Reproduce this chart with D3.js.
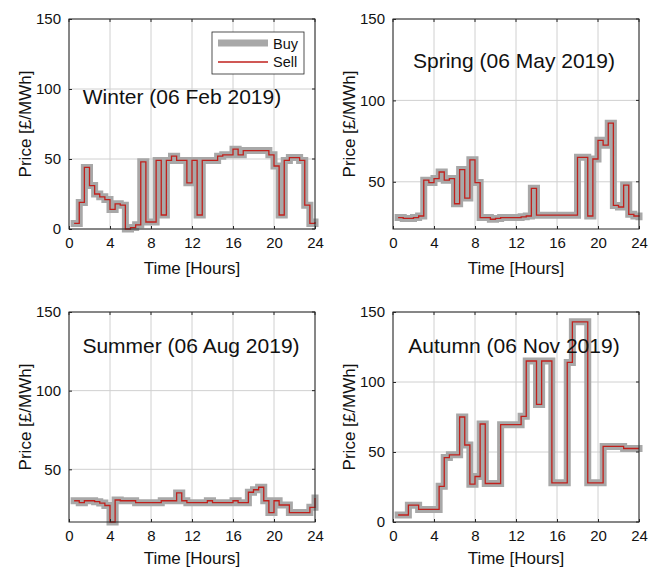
<!DOCTYPE html>
<html>
<head>
<meta charset="utf-8">
<script src="https://cdn.jsdelivr.net/npm/d3@7"></script>
<style>
  html, body { margin: 0; padding: 0; background: #fff; }
  svg { display: block; font-family: "Liberation Sans", Arial, sans-serif; }
</style>
</head>
<body>
<svg id="chart" width="656" height="568"></svg>
<script>
// ---- data: half-hourly prices (stairs, x = 0.5 ... 24 h) ----
const hours = d3.range(48).map(i => 0.5 * (i + 1));

const winterBuy = [4, 19, 44, 31, 25, 23, 21, 14, 18, 17, 0, 1, 3, 48, 5, 5,
  49, 10, 49, 52, 49, 49, 33, 49, 10, 49, 49, 49, 52, 53, 53, 57,
  53, 56, 56, 56, 56, 56, 53, 45, 10, 49, 51, 51, 49, 17, 4, 5];
const springBuy = [28, 27.5, 27.5, 28, 29, 51, 49.5, 52, 56, 51, 52, 36.5, 57.5, 40, 63.5, 49.5,
  28, 28, 27, 27.5, 28, 28, 28, 28, 28.5, 29, 46, 29.5, 29.5, 29.5, 29.5, 29.5,
  29.5, 29.5, 29.5, 65, 65, 29, 64, 75.5, 72.5, 86, 35.5, 34.5, 48, 30, 29, 28.5];
const summerBuy = [30, 28.8, 30, 30, 29.4, 28.5, 27, 16.5, 30.5, 30, 30, 30, 28.8, 28.8, 28.8, 28.8,
  28.8, 30, 30, 30, 35, 30, 28.8, 28.8, 28.8, 28.8, 30, 28.8, 28.8, 28.8, 28.8, 30,
  28.8, 28.8, 35.4, 37, 38.6, 30, 22.5, 30, 27.3, 27.3, 22.5, 22.5, 22.5, 22.5, 25.8, 31.8];
const autumnBuy = [5, 5, 12, 12, 9, 9, 9, 9, 25.5, 46, 48, 48, 75, 55, 27, 32.5,
  70, 27.5, 27.5, 27.5, 69.5, 69.5, 69.5, 69.5, 75.5, 115, 115, 84, 115, 115, 28, 28,
  28, 114, 143, 143, 143, 28, 28, 28, 54, 54, 54, 54, 52.5, 52.5, 52.5, 52.5];

// sell prices follow the buy prices
const winterSell = winterBuy.slice();
const springSell = springBuy.slice();
const summerSell = summerBuy.slice();
const autumnSell = autumnBuy.slice();

const titles = ["Winter (06 Feb 2019)", "Spring (06 May 2019)", "Summer (06 Aug 2019)", "Autumn (06 Nov 2019)"];
const xTicks = [0, 4, 8, 12, 16, 20, 24];
const yTicksFull = [0, 50, 100, 150];
const yTicksUpper = [50, 100, 150];
const legendLabels = ["Buy", "Sell"];

// ---- layout ----
const panels = [
  { title: titles[0], buy: winterBuy, sell: winterSell, ymin: 0,    yt: yTicksFull,  x: 69,  y: 19,  tx: 182, ty: 104, xl: 255, legend: true },
  { title: titles[1], buy: springBuy, sell: springSell, ymin: 21,   yt: yTicksUpper, x: 393, y: 19,  tx: 514, ty: 68,  xl: 255 },
  { title: titles[2], buy: summerBuy, sell: summerSell, ymin: 16.5, yt: yTicksUpper, x: 69,  y: 312, tx: 191, ty: 353, xl: 252 },
  { title: titles[3], buy: autumnBuy, sell: autumnSell, ymin: 0,    yt: yTicksFull,  x: 393, y: 312, tx: 514, ty: 353, xl: 252 }
];
const W = 246, H = 210;
const gridColor = "#d0d0d0", axisColor = "#262626";
const buyColor = "#a8a8a8", sellColor = "#c0201c";

const svg = d3.select("#chart");

panels.forEach(p => {
  const g = svg.append("g").attr("transform", `translate(${p.x},${p.y})`);
  const x = d3.scaleLinear().domain([0, 24]).range([0, W]);
  const y = d3.scaleLinear().domain([p.ymin, 150]).range([H, 0]);

  // grid
  g.append("g").selectAll("line").data(xTicks).join("line")
    .attr("x1", d => x(d)).attr("x2", d => x(d)).attr("y1", 0).attr("y2", H)
    .attr("stroke", gridColor).attr("stroke-width", 1);
  g.append("g").selectAll("line").data(p.yt).join("line")
    .attr("x1", 0).attr("x2", W).attr("y1", d => y(d)).attr("y2", d => y(d))
    .attr("stroke", gridColor).attr("stroke-width", 1);

  // data lines
  const line = d3.line().x((d, i) => x(hours[i])).y(d => y(d)).curve(d3.curveStepAfter);
  g.append("path").datum(p.buy).attr("d", line)
    .attr("fill", "none").attr("stroke", buyColor).attr("stroke-width", 7)
    .attr("stroke-linejoin", "miter").attr("stroke-linecap", "square");
  g.append("path").datum(p.sell).attr("d", line)
    .attr("fill", "none").attr("stroke", sellColor).attr("stroke-width", 1.3);

  // axes (ticks inward)
  const xa = g.append("g").attr("transform", `translate(0,${H})`)
    .call(d3.axisBottom(x).tickValues(xTicks).tickSizeInner(-3).tickSizeOuter(0).tickPadding(8));
  const ya = g.append("g")
    .call(d3.axisLeft(y).tickValues(p.yt).tickSizeInner(-3).tickSizeOuter(0).tickPadding(8));
  [xa, ya].forEach(a => {
    a.select(".domain").remove();
    a.selectAll("line").attr("stroke", axisColor);
    a.selectAll("text").attr("font-size", 15).attr("fill", "#111")
      .attr("font-family", "Liberation Sans, Arial, sans-serif");
  });
  xa.selectAll("text").attr("dy", "0.71em").attr("y", 8);
  // top/right mirrored ticks
  g.append("g").selectAll("line").data(xTicks).join("line")
    .attr("x1", d => x(d)).attr("x2", d => x(d)).attr("y1", 0).attr("y2", 3).attr("stroke", axisColor);
  g.append("g").selectAll("line").data(p.yt).join("line")
    .attr("x1", W).attr("x2", W - 3).attr("y1", d => y(d)).attr("y2", d => y(d)).attr("stroke", axisColor);

  // box
  g.append("rect").attr("x", 0).attr("y", 0).attr("width", W).attr("height", H)
    .attr("fill", "none").attr("stroke", axisColor).attr("stroke-width", 1);

  // axis labels
  g.append("text").attr("x", W / 2).attr("y", p.xl).attr("text-anchor", "middle")
    .attr("font-size", 17).attr("fill", "#111").text("Time [Hours]");
  g.append("text").attr("transform", `translate(-38,${H / 2}) rotate(-90)`)
    .attr("text-anchor", "middle").attr("font-size", 17).attr("fill", "#111").text("Price [£/MWh]");

  // title
  svg.append("text").attr("x", p.tx).attr("y", p.ty).attr("text-anchor", "middle")
    .attr("font-size", 21).attr("fill", "#111").text(p.title);

  // legend
  if (p.legend) {
    const lg = g.append("g").attr("transform", `translate(${W - 103},13)`);
    lg.append("rect").attr("width", 92).attr("height", 42)
      .attr("fill", "#fff").attr("stroke", axisColor).attr("stroke-width", 0.8);
    lg.append("line").attr("x1", 6).attr("x2", 56).attr("y1", 11).attr("y2", 11)
      .attr("stroke", buyColor).attr("stroke-width", 7);
    lg.append("line").attr("x1", 6).attr("x2", 56).attr("y1", 30).attr("y2", 30)
      .attr("stroke", sellColor).attr("stroke-width", 1.3);
    lg.append("text").attr("x", 61).attr("y", 16.5).attr("font-size", 14.5).attr("fill", "#111").text(legendLabels[0]);
    lg.append("text").attr("x", 61).attr("y", 35).attr("font-size", 14.5).attr("fill", "#111").text(legendLabels[1]);
  }
});
</script>
</body>
</html>
